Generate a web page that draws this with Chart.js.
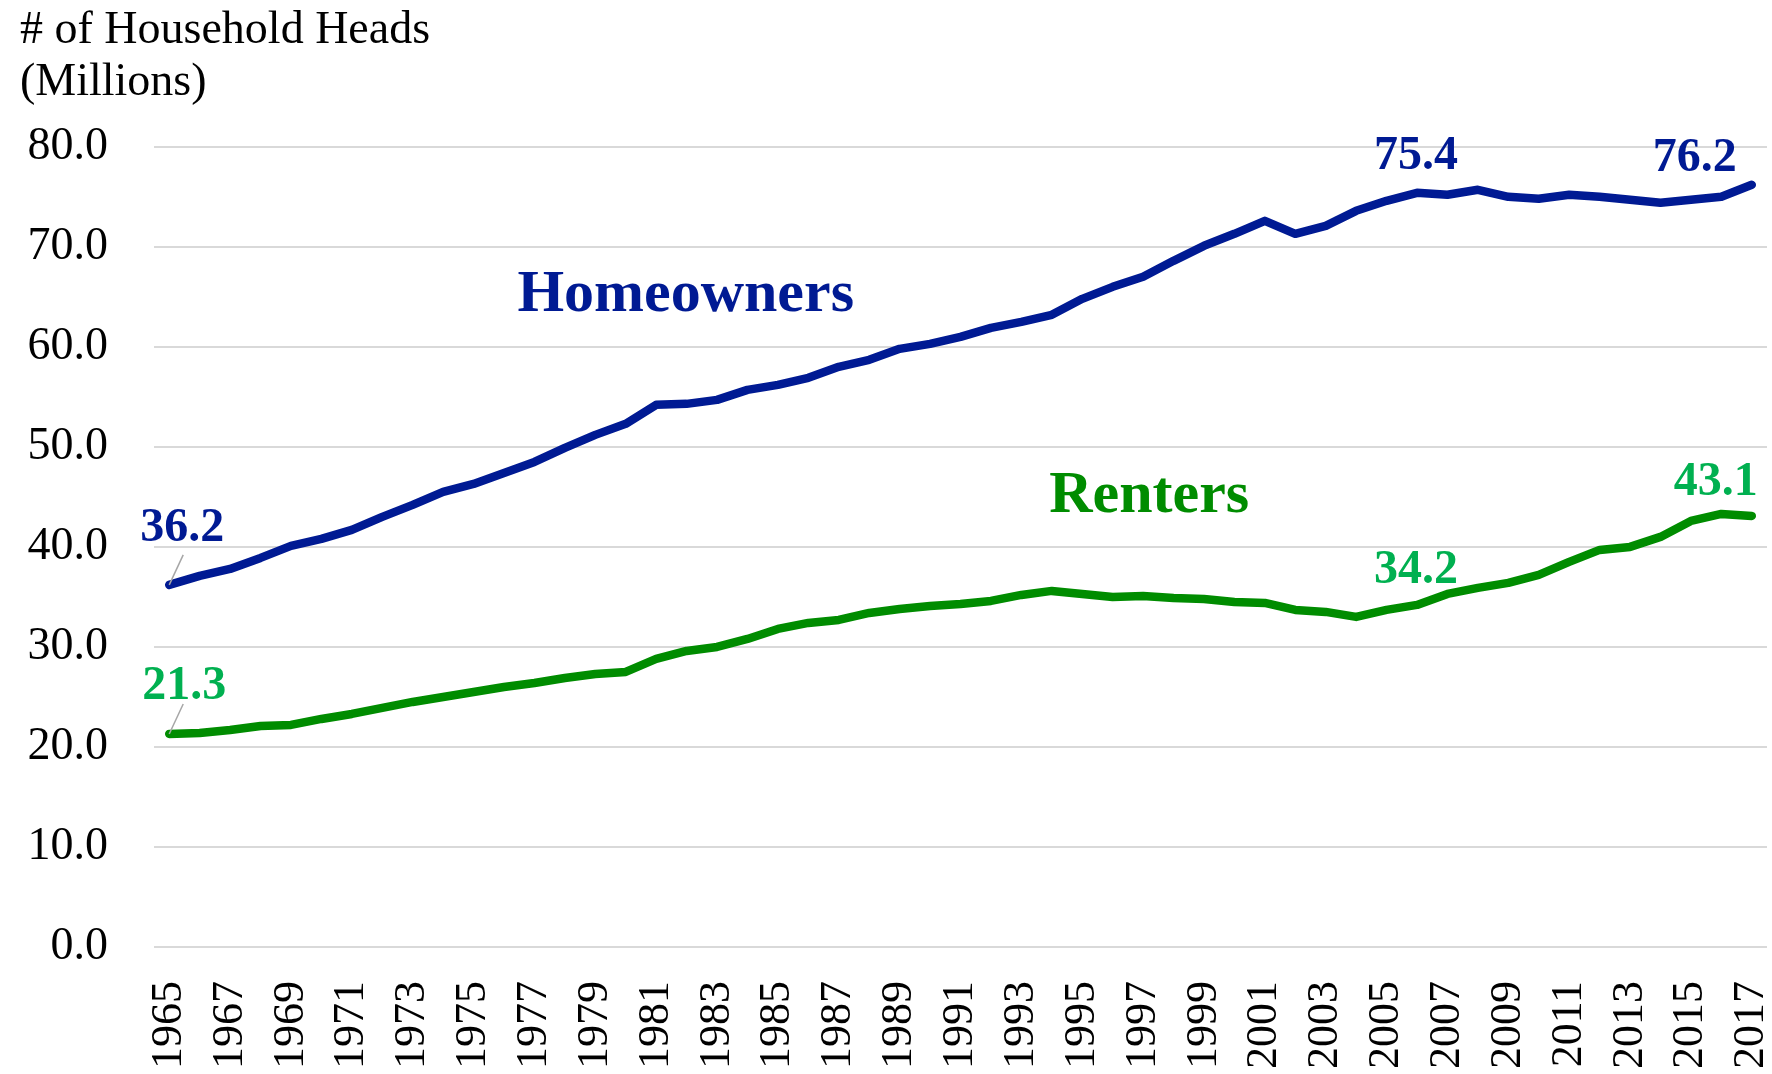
<!DOCTYPE html>
<html><head><meta charset="utf-8">
<script src="https://cdn.jsdelivr.net/npm/chart.js@4.4.1/dist/chart.umd.min.js"></script>
<style>html,body{margin:0;padding:0;background:#fff}#wrap{width:1772px;height:1074px;position:relative}</style>
</head><body><div id="wrap"><canvas id="c"></canvas></div>
<script>
const years = ['1965','1966','1967','1968','1969','1970','1971','1972','1973','1974','1975','1976','1977','1978','1979','1980','1981','1982','1983','1984','1985','1986','1987','1988','1989','1990','1991','1992','1993','1994','1995','1996','1997','1998','1999','2000','2001','2002','2003','2004','2005','2006','2007','2008','2009','2010','2011','2012','2013','2014','2015','2016','2017'];
const xTickLabels = ['1965','1967','1969','1971','1973','1975','1977','1979','1981','1983','1985','1987','1989','1991','1993','1995','1997','1999','2001','2003','2005','2007','2009','2011','2013','2015','2017'];
const homeowners = [36.2,37.1,37.8,38.9,40.1,40.8,41.7,43.0,44.2,45.5,46.3,47.4,48.5,49.9,51.2,52.3,54.2,54.3,54.7,55.7,56.2,56.9,58.0,58.7,59.8,60.3,61.0,61.9,62.5,63.2,64.8,66.0,67.0,68.6,70.1,71.3,72.6,71.3,72.1,73.6,74.6,75.4,75.2,75.7,75.0,74.8,75.2,75.0,74.7,74.4,74.7,75.0,76.2];
const renters = [21.3,21.4,21.7,22.1,22.2,22.8,23.3,23.9,24.5,25.0,25.5,26.0,26.4,26.9,27.3,27.5,28.8,29.6,30.0,30.8,31.8,32.4,32.7,33.4,33.8,34.1,34.3,34.6,35.2,35.6,35.3,35.0,35.1,34.9,34.8,34.5,34.4,33.7,33.5,33.0,33.7,34.2,35.3,35.9,36.4,37.2,38.5,39.7,40.0,41.0,42.6,43.3,43.1];
const yTicks = [0,10,20,30,40,50,60,70,80];
const seriesNames = ['Homeowners','Renters'];
const labeledYears = ['1965','2006','2017'];

const BLUE = '#001a93', GREEN = '#008c00', GREEN_LBL = '#00b050';
const FONT = "'Liberation Serif', serif";

const labelPlugin = {
  id: 'customLabels',
  afterDatasetsDraw(chart) {
    const {ctx} = chart; const x = chart.scales.x, y = chart.scales.y;
    ctx.save();
    ctx.font = "bold 60px " + FONT;
    ctx.textAlign = 'center'; ctx.textBaseline = 'alphabetic';
    ctx.fillStyle = BLUE;
    ctx.fillText(seriesNames[0], x.getPixelForValue(16.97), y.getPixelForValue(63.6));
    ctx.fillStyle = GREEN;
    ctx.fillText(seriesNames[1], x.getPixelForValue(32.2), y.getPixelForValue(43.5));
    const cfg = [
      {data: homeowners, color: BLUE, offs: {'1965':[13,-44,true], '2006':[-1,-24,false], '2017':[-57,-14,false]}},
      {data: renters, color: GREEN_LBL, offs: {'1965':[15,-35,true], '2006':[-1,-22,false], '2017':[-36,-21,false]}}
    ];
    ctx.font = "bold 48px " + FONT;
    cfg.forEach(c => {
      labeledYears.forEach(yr => {
        const i = years.indexOf(yr);
        const px = x.getPixelForValue(i), py = y.getPixelForValue(c.data[i]);
        const o = c.offs[yr];
        if (o[2]) {
          ctx.strokeStyle = '#a6a6a6'; ctx.lineWidth = 1.5;
          ctx.beginPath(); ctx.moveTo(px, py); ctx.lineTo(px + 14, py - 30); ctx.stroke();
        }
        ctx.fillStyle = c.color;
        ctx.fillText(c.data[i].toFixed(1), px + o[0], py + o[1]);
      });
    });
    ctx.restore();
  }
};

new Chart(document.getElementById('c'), {
  type: 'line',
  data: {
    labels: years,
    datasets: [
      {label: seriesNames[0], data: homeowners, borderColor: BLUE, borderWidth: 8.5, pointRadius: 0, tension: 0, borderCapStyle: 'round', borderJoinStyle: 'round'},
      {label: seriesNames[1], data: renters, borderColor: GREEN, borderWidth: 8.5, pointRadius: 0, tension: 0, borderCapStyle: 'round', borderJoinStyle: 'round'}
    ]
  },
  options: {
    responsive: true, maintainAspectRatio: false, animation: false,
    layout: {padding: {left: 20, right: 5, top: 0, bottom: 0}},
    plugins: {
      legend: {display: false}, tooltip: {enabled: false},
      title: {display: true, text: ['# of Household Heads', '(Millions)'], align: 'start', color: '#000',
        font: {family: FONT, size: 46, weight: 'normal', lineHeight: 1.15}, padding: {top: 4, bottom: 37}}
    },
    scales: {
      x: {
        offset: true,
        grid: {display: false, drawTicks: false},
        border: {display: false},
        ticks: {autoSkip: false, maxRotation: 90, minRotation: 90, padding: 34, color: '#000',
          font: {family: FONT, size: 44, weight: 'normal'},
          callback: function(v, i) { const l = this.getLabelForValue(v); return xTickLabels.includes(l) ? l : ''; }},
        afterFit(s) { s.height = 127; s.paddingLeft = 0; s.paddingRight = 0; }
      },
      y: {
        min: 0, max: 80,
        grid: {color: '#d9d9d9', lineWidth: 2, drawTicks: false},
        border: {display: false},
        ticks: {stepSize: 10, padding: 46, color: '#000', font: {family: FONT, size: 46, weight: 'normal'},
          callback: v => yTicks.includes(v) ? v.toFixed(1) : ''},
        afterFit(s) { s.width = 134; }
      }
    }
  },
  plugins: [labelPlugin]
});
</script></body></html>
